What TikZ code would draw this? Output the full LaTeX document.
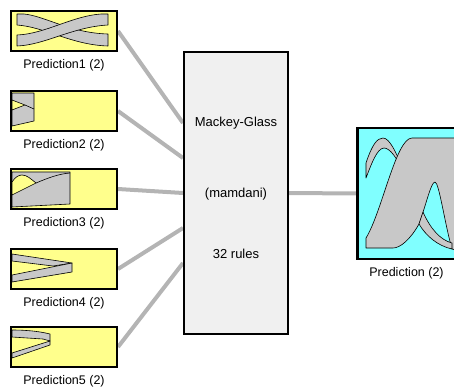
\documentclass[tikz,border=0pt]{standalone}
\usepackage{fontspec}
\setmainfont{Liberation Sans}
\usepackage{tikz}
\usetikzlibrary{positioning,backgrounds}
\definecolor{inyellow}{RGB}{255,255,140}
\definecolor{outcyan}{RGB}{128,255,255}
\definecolor{rulegray}{RGB}{240,240,240}
\definecolor{wiregray}{RGB}{180,180,180}
\definecolor{mfgray}{RGB}{200,200,200}
\def\mfOneA{(17,14) -- (24,14) .. controls (45,16) and (70,33) .. (108,34) -- (108,46) .. controls (72,45) and (45,27) .. (17,25) -- cycle}
\def\mfOneB{(17,35) .. controls (45,34) and (72,16) .. (101,14) -- (108,14) -- (108,25) .. controls (72,27) and (45,45) .. (17,46) -- cycle}
\def\mfTwoA{(12,93) -- (34,93) -- (34,121) -- (12,126) -- cycle}
\def\mfTwoB{(12,100) -- (25,105) -- (12,110) -- cycle}
\def\mfThreeA{(12,172) -- (70,172) -- (70,204) -- (12,207) -- cycle}
\def\mfThreeB{(12,182) .. controls (15,177) and (19,175) .. (22,175) .. controls (27,175) and (31,179) .. (36,183) .. controls (28,187) and (20,191) .. (12,195) -- cycle}
\def\mfFourA{(12,254) -- (72,263) -- (53,266) -- (12,261) -- cycle}
\def\mfFourB{(12,275) -- (72,263) -- (72,272) -- (12,282) -- cycle}
\def\mfFiveA{(12,330) .. controls (30,330) and (42,332) .. (50,334) -- (50,341) -- (43,339) -- (12,337) -- cycle}
\def\mfFiveB{(12,353) -- (50,341) -- (50,345) -- (12,358) -- cycle}
\def\mfOutA{(366,163) .. controls (372,145) and (377,138) .. (383,138) .. controls (396,138) and (410,195) .. (425,225) .. controls (432,239) and (442,247) .. (452,248) -- (452,243) .. controls (442,241) and (433,234) .. (427,222) .. controls (411,188) and (396,148) .. (384,148) .. controls (377,148) and (371,165) .. (366,178) -- cycle}
\def\mfOutB{(366,248) -- (366,238) .. controls (382,212) and (396,138) .. (412,138) -- (456,138) -- (456,250) -- (452,249) .. controls (445,225) and (439,182) .. (435,182) .. controls (431,182) and (426,205) .. (419,224) .. controls (410,240) and (400,248) .. (393,248) -- cycle}
\def\mfOutC{(423,212) .. controls (430,228) and (440,240) .. (452,243) -- (452,249) .. controls (438,246) and (426,236) .. (419,224) -- cycle}
\tikzset{
  inbox/.style={draw=black, line width=2pt, fill=inyellow, minimum width=106pt, minimum height=40pt, inner sep=0pt},
  rulebox/.style={draw=black, line width=2pt, fill=rulegray, minimum width=104pt, minimum height=282pt, inner sep=0pt},
  outbox/.style={draw=black, line width=2pt, fill=outcyan, minimum width=97pt, minimum height=131pt, inner sep=0pt},
  lbl/.style={inner sep=0pt, font=\fontsize{12.5}{15}\selectfont},
  ruletext/.style={inner sep=0pt, font=\fontsize{13}{15}\selectfont},
  wire/.style={draw=wiregray, line width=4pt},
  mf/.style={fill=mfgray, draw=black, line width=0.6pt, line join=round},
  notch/.style={fill=inyellow, draw=black, line width=0.6pt, line join=round}
}

\begin{document}
\begin{tikzpicture}[x=1pt,y=-1pt]
  \useasboundingbox (0,0) rectangle (454,391);
  \clip (0,0) rectangle (454,391);
  % inputs
  \node[inbox] (in1) at (64,31) {};
  \node[inbox] (in2) at (64,111) {};
  \node[inbox] (in3) at (64,189) {};
  \node[inbox] (in4) at (64,269) {};
  \node[inbox] (in5) at (64,347) {};
  \node[lbl, below=7pt of in1] (in1lbl) {Prediction1 (2)};
  \node[lbl, below=7pt of in2] (in2lbl) {Prediction2 (2)};
  \node[lbl, below=7pt of in3] (in3lbl) {Prediction3 (2)};
  \node[lbl, below=7pt of in4] (in4lbl) {Prediction4 (2)};
  \node[lbl, below=7pt of in5] (in5lbl) {Prediction5 (2)};
  % rule block and output
  \node[rulebox] (mg) at (236,193) {};
  \node[ruletext] (mgname) at (236,123) {Mackey-Glass};
  \node[ruletext] (mgtype) at (236,194) {(mamdani)};
  \node[ruletext] (mgrules) at (236,254) {32 rules};
  \node[outbox] (out) at (406.5,193.5) {};
  \node[lbl, below=7pt of out] (outlbl) {Prediction (2)};
  \begin{scope}[on background layer]
    \draw[wire] (in1.east) -- ([yshift=70pt]mg.west);
    \draw[wire] (in2.east) -- ([yshift=35pt]mg.west);
    \draw[wire] (in3.east) -- (mg.west);
    \draw[wire] (in4.east) -- ([yshift=-35pt]mg.west);
    \draw[wire] (in5.east) -- ([yshift=-70pt]mg.west);
    \draw[wire] (mg.east) -- (out.west);
  \end{scope}
  % membership functions
  \draw[mf] \mfOneA; \draw[mf] \mfOneB;
  \draw[mf] \mfTwoA; \draw[notch] \mfTwoB; \draw[line width=0.6pt] (25,105) -- (34,109);
  \draw[mf] \mfThreeA; \draw[notch] \mfThreeB;
  \draw[line width=0.6pt] (36,183) .. controls (48,178) and (58,174) .. (70,173);
  \draw[mf] \mfFourA; \draw[mf] \mfFourB;
  \draw[mf] \mfFiveA; \draw[mf] \mfFiveB;
  \draw[mf] \mfOutA; \draw[mf] \mfOutB; \draw[mf] \mfOutC;
  \draw[line width=2pt] (out.north west) -- (out.south west);
\end{tikzpicture}
\end{document}
